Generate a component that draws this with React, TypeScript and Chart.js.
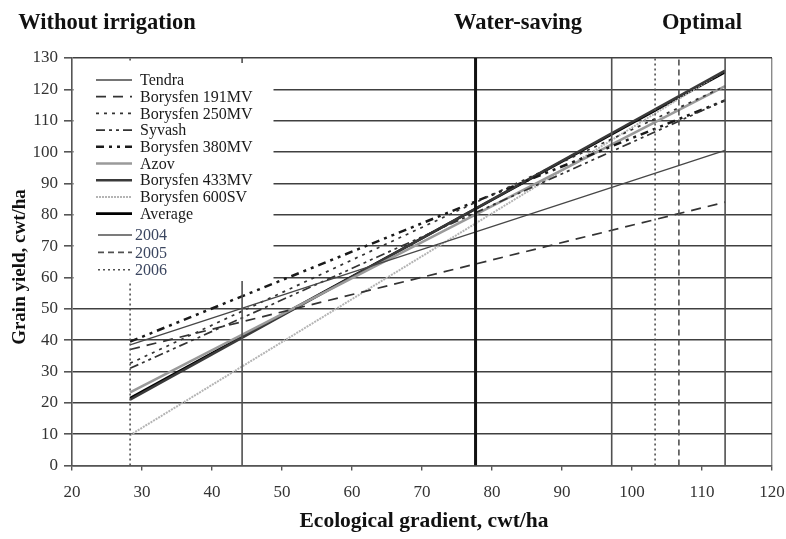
import React, { useEffect, useRef } from 'react';
import { Chart, registerables } from 'chart.js';

Chart.register(...registerables);

// ---- data ----
const cultivars = [
  'Tendra',
  'Borysfen 191MV',
  'Borysfen 250MV',
  'Syvash',
  'Borysfen 380MV',
  'Azov',
  'Borysfen 433MV',
  'Borysfen 600SV',
  'Average',
];
const gradientRange = [28.3, 113.3];
const yieldAtLow = [38.5, 37, 32.6, 31, 39.5, 23.3, 21, 9.7, 21.5];
const yieldAtHigh = [100.5, 84, 121, 116.5, 116.5, 121, 126, 126, 125.5];

const years = ['2004', '2005', '2006'];
const gradients2004 = [44.3, 97.1, 113.3];
const gradients2005 = [106.7];
const gradients2006 = [28.3, 103.3];
const averageGradient = [77.65];

const zoneLabels = ['Without irrigation', 'Water-saving', 'Optimal'];
const xTickValues = [20, 30, 40, 50, 60, 70, 80, 90, 100, 110, 120];
const yTickValues = [0, 10, 20, 30, 40, 50, 60, 70, 80, 90, 100, 110, 120, 130];
const xTitle = 'Ecological gradient, cwt/ha';
const yTitle = 'Grain yield, cwt/ha';

// ---- styles ----
const cultivarStyles = [
  { color: '#474747', width: 1.3, dash: [] as number[] },
  { color: '#333333', width: 1.7, dash: [10, 7] },
  { color: '#333333', width: 1.7, dash: [3, 5] },
  { color: '#333333', width: 1.7, dash: [9, 4, 3, 4, 3, 4] },
  { color: '#1a1a1a', width: 2.5, dash: [8, 5, 3, 5, 3, 5] },
  { color: '#9a9a9a', width: 2.6, dash: [] as number[] },
  { color: '#3a3a3a', width: 2.6, dash: [] as number[] },
  { color: '#b4b4b4', width: 2, dash: [2, 1] },
  { color: '#000000', width: 2.8, dash: [] as number[] },
];
const yearStyles = [
  { color: '#505050', width: 1.6, dash: [] as number[] },
  { color: '#505050', width: 1.6, dash: [6, 4] },
  { color: '#505050', width: 1.6, dash: [2, 3] },
];
const SERIF = '"Liberation Serif", "Times New Roman", serif';

function vLine(v: number) {
  return [
    { x: v, y: yTickValues[0] },
    { x: v, y: yTickValues[yTickValues.length - 1] },
  ];
}

export default function App() {
  const ref = useRef<HTMLCanvasElement | null>(null);

  useEffect(() => {
    if (!ref.current) return;
    const datasets: any[] = [];
    const yearGroups = [gradients2004, gradients2005, gradients2006];
    yearGroups.forEach((g, i) => {
      g.forEach((v) => {
        datasets.push({
          label: years[i],
          data: vLine(v),
          borderColor: yearStyles[i].color,
          borderWidth: yearStyles[i].width,
          borderDash: yearStyles[i].dash,
          pointRadius: 0,
        });
      });
    });
    averageGradient.forEach((v) => {
      datasets.push({
        label: 'Average gradient',
        data: vLine(v),
        borderColor: '#111',
        borderWidth: 3,
        pointRadius: 0,
      });
    });
    cultivars.forEach((c, i) => {
      datasets.push({
        label: c,
        data: [
          { x: gradientRange[0], y: yieldAtLow[i] },
          { x: gradientRange[1], y: yieldAtHigh[i] },
        ],
        borderColor: cultivarStyles[i].color,
        borderWidth: cultivarStyles[i].width,
        borderDash: cultivarStyles[i].dash,
        pointRadius: 0,
      });
    });

    const overlay = {
      id: 'overlay',
      afterDatasetsDraw(chart: any) {
        const ctx = chart.ctx;
        const ca = chart.chartArea;
        ctx.save();
        // legend box
        ctx.fillStyle = '#ffffff';
        ctx.fillRect(ca.left + 1.5, ca.top + 5, 200, 218);
        const entries: { label: string; style: any; color: string; textX: number; x0: number; x1: number }[] = [];
        cultivars.forEach((c, i) =>
          entries.push({ label: c, style: cultivarStyles[i], color: '#1a1a1a', textX: ca.left + 68, x0: ca.left + 24, x1: ca.left + 60 })
        );
        years.forEach((y, i) =>
          entries.push({ label: y, style: yearStyles[i], color: '#3b4660', textX: ca.left + 63, x0: ca.left + 26, x1: ca.left + 60 })
        );
        ctx.font = `16px ${SERIF}`;
        ctx.textBaseline = 'middle';
        ctx.textAlign = 'left';
        entries.forEach((e, i) => {
          const y = i < 9 ? ca.top + 22 + i * 16.7 : ca.top + 177 + (i - 9) * 17.4;
          ctx.beginPath();
          ctx.strokeStyle = e.style.color;
          ctx.lineWidth = e.style.width;
          ctx.setLineDash(e.style.dash);
          ctx.moveTo(e.x0, y);
          ctx.lineTo(e.x1, y);
          ctx.stroke();
          ctx.setLineDash([]);
          ctx.fillStyle = e.color;
          ctx.fillText(e.label, e.textX, y + 1);
        });
        ctx.restore();
      },
      afterDraw(chart: any) {
        const ctx = chart.ctx;
        ctx.save();
        ctx.fillStyle = '#111';
        ctx.textBaseline = 'middle';
        ctx.textAlign = 'center';
        ctx.font = `bold 22.5px ${SERIF}`;
        ctx.fillText(zoneLabels[0], 107, 23);
        ctx.fillText(zoneLabels[1], 518, 23);
        ctx.fillText(zoneLabels[2], 702, 23);
        ctx.font = `bold 21.5px ${SERIF}`;
        ctx.fillText(xTitle, 424, 521);
        ctx.translate(20, 267);
        ctx.rotate(-Math.PI / 2);
        ctx.font = `bold 19px ${SERIF}`;
        ctx.fillText(yTitle, 0, 0);
        ctx.restore();
      },
    };

    const chart = new Chart(ref.current, {
      type: 'line',
      data: { datasets },
      options: {
        animation: false,
        responsive: false,
        maintainAspectRatio: false,
        parsing: false as any,
        layout: { padding: { top: 58, right: 14, left: 0, bottom: 0 } },
        plugins: { legend: { display: false }, tooltip: { enabled: false } },
        scales: {
          x: {
            type: 'linear',
            min: xTickValues[0],
            max: xTickValues[xTickValues.length - 1],
            afterBuildTicks: (s: any) => {
              s.ticks = xTickValues.map((v) => ({ value: v }));
            },
            afterFit: (s: any) => {
              s.height = 73.5;
              s.paddingLeft = 0;
              s.paddingRight = 0;
            },
            grid: {
              color: (c: any) => (c.tick && c.tick.value === xTickValues[xTickValues.length - 1] ? '#8a8a8a' : 'rgba(0,0,0,0)'),
              tickColor: '#555',
              tickLength: 5,
              lineWidth: 1.4,
            },
            border: { color: '#555', width: 1.6 },
            ticks: {
              color: '#333',
              font: { family: SERIF, size: 17 },
              padding: 12,
              maxRotation: 0,
            },
          },
          y: {
            type: 'linear',
            min: yTickValues[0],
            max: yTickValues[yTickValues.length - 1],
            afterBuildTicks: (s: any) => {
              s.ticks = yTickValues.map((v) => ({ value: v }));
            },
            afterFit: (s: any) => {
              s.width = 72;
            },
            grid: {
              color: '#404040',
              tickColor: '#555',
              tickLength: 8,
              lineWidth: 1.6,
            },
            border: { color: '#555', width: 1.6 },
            ticks: {
              color: '#333',
              font: { family: SERIF, size: 17 },
              padding: 6,
            },
          },
        },
      },
      plugins: [overlay],
    });
    return () => chart.destroy();
  }, []);

  return (
    <div style={{ position: 'fixed', left: 0, top: 0, width: 786, height: 539, background: '#fff' }}>
      <canvas ref={ref} width={786} height={539} style={{ display: 'block', width: 786, height: 539 }} />
    </div>
  );
}
